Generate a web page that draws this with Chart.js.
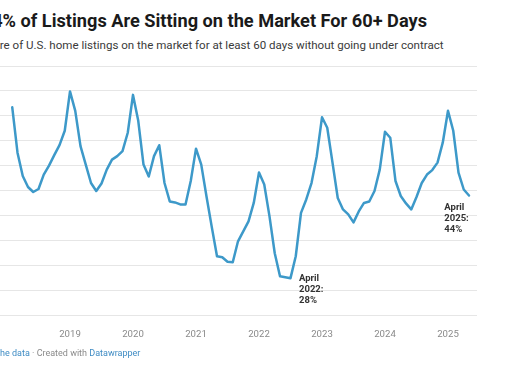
<!DOCTYPE html>
<html>
<head>
<meta charset="utf-8">
<script src="https://cdn.jsdelivr.net/npm/chart.js@4"></script>
<style>
  html, body { margin: 0; padding: 0; background: #fff; }
  #wrap { position: relative; width: 510px; height: 382px; overflow: hidden; font-family: Roboto, "Noto Sans", sans-serif; }
  #chart { position: absolute; left: 0; top: 0; }
  .txt { position: absolute; left: 0; white-space: nowrap; }
  #title { top: 11.7px; font-size: 18.2px; line-height: 18.2px; font-weight: 700; color: #1a1a1a; }
  #subtitle { top: 40.3px; font-size: 11.55px; line-height: 11.55px; color: #3a3a3a; }
  #footer { top: 349px; font-size: 9px; line-height: 9px; color: #8a8a8a; }
  #footer .lnk { color: #3f8cc4; }
</style>
</head>
<body>
<div id="wrap">
  <div class="txt" id="title"><span id="tpre">44</span>% of Listings Are Sitting on the Market For 60+ Days</div>
  <div class="txt" id="subtitle"><span id="spre">Sha</span>re of U.S. home listings on the market for at least 60 days without going under contract</div>
  <canvas id="chart" width="510" height="382"></canvas>
  <div class="txt" id="footer"><span class="lnk"><span id="fpre">Get t</span>he data</span> · Created with <span class="lnk">Datawrapper</span></div>
</div>
<script>
// share of listings on market 60+ days, monthly from Jan 2018 to Apr 2025 (%)
var firstYear = 2018;
var values = [
  61.7, 52.6, 47.9, 45.7, 44.7, 45.3, 48.2, 50.0, 52.1, 54.1, 57.0, 64.9,
  61.0, 53.9, 50.2, 46.5, 44.9, 46.4, 49.2, 51.2, 51.9, 52.9, 56.6, 64.2,
  59.0, 50.2, 47.8, 51.9, 54.1, 46.5, 42.8, 42.6, 42.2, 42.2, 46.9, 53.4,
  50.2, 43.8, 37.7, 31.8, 31.6, 30.7, 30.6, 34.8, 36.8, 38.8, 42.5, 48.6,
  46.2, 39.8, 32.4, 27.8, 27.6, 27.4, 31.8, 40.5, 43.2, 46.5, 51.9, 59.7,
  57.6, 50.6, 43.5, 41.2, 40.2, 38.6, 40.8, 42.5, 42.8, 44.9, 49.2, 56.8,
  55.6, 46.9, 43.9, 42.4, 41.2, 43.7, 46.5, 48.2, 49.1, 50.6, 54.6, 61.0,
  57.0, 48.6, 45.2, 44.0
];
var yearLabels = ['2019', '2020', '2021', '2022', '2023', '2024', '2025'];
var noteMonths = [51, 87];
var noteTexts = [['April', '2022:', '28%'], ['April', '2025:', '44%']];

// cut the text off at the left edge like the reference crop
document.getElementById('title').style.marginLeft = (2.7 - document.getElementById('tpre').offsetWidth) + 'px';
document.getElementById('subtitle').style.marginLeft = (0.3 - document.getElementById('spre').offsetWidth) + 'px';
document.getElementById('footer').style.marginLeft = (0 - document.getElementById('fpre').offsetWidth) + 'px';

// each value sits at the end of its month (x = months since Jan 2018)
var points = values.map(function(v, i) { return { x: i + 1, y: v }; });
var yearTicks = yearLabels.map(function(l) { return (parseInt(l) - firstYear) * 12; });

var noteOffsets = [{ dx: 19, dy: 2.7 }, { dx: -24.7, dy: 12.3 }];

var notesPlugin = {
  id: 'notes',
  afterDatasetsDraw: function(chart) {
    var c = chart.ctx;
    var xs = chart.scales.x, ys = chart.scales.y;
    c.save();
    c.font = 'bold 9.5px Roboto';
    c.fillStyle = '#333';
    c.textBaseline = 'middle';
    c.textAlign = 'left';
    for (var i = 0; i < noteMonths.length; i++) {
      var m = noteMonths[i];
      var px = xs.getPixelForValue(m + 1) + noteOffsets[i].dx;
      var py = ys.getPixelForValue(values[m]) + noteOffsets[i].dy;
      for (var j = 0; j < noteTexts[i].length; j++) {
        c.fillText(noteTexts[i][j], px, py + j * 10.7);
      }
    }
    c.restore();
  }
};

var ctx = document.getElementById('chart').getContext('2d');
var chart = new Chart(ctx, {
  type: 'line',
  data: {
    datasets: [{
      data: points,
      borderColor: '#3d99c9',
      borderWidth: 2.5,
      pointRadius: 0,
      tension: 0,
      borderJoinStyle: 'round',
      borderCapStyle: 'round'
    }]
  },
  options: {
    responsive: false,
    animation: false,
    layout: { padding: { top: 66, right: 33, bottom: 40, left: 0 } },
    plugins: { legend: { display: false }, tooltip: { enabled: false } },
    scales: {
      x: {
        type: 'linear',
        min: -7 / 5.25,
        max: 470 / 5.25,
        grid: { display: false },
        border: { display: false },
        afterBuildTicks: function(axis) {
          axis.ticks = yearTicks.map(function(v) { return { value: v }; });
        },
        afterFit: function(axis) { axis.height = 27; },
        ticks: {
          autoSkip: false,
          maxRotation: 0,
          padding: 6,
          color: '#8a8a8a',
          font: { family: 'Roboto', size: 9.6 },
          callback: function(v, i) { return yearLabels[i]; }
        }
      },
      y: {
        min: 20,
        max: 70,
        afterFit: function(axis) { axis.width = 0; },
        ticks: { display: false, stepSize: 5 },
        grid: { color: '#e6e6e6', lineWidth: 1, drawTicks: false },
        border: { display: false }
      }
    }
  },
  plugins: [notesPlugin]
});
</script>
</body>
</html>
